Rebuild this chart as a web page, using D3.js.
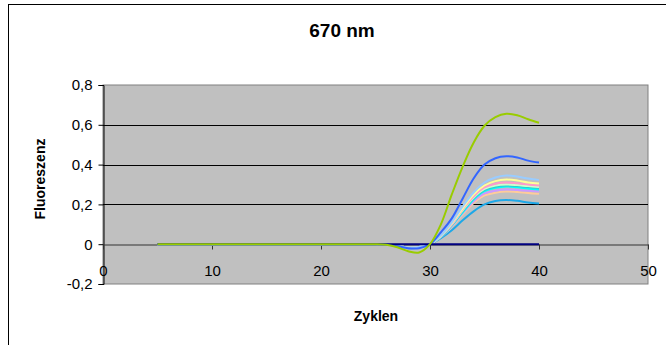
<!DOCTYPE html>
<html>
<head>
<meta charset="utf-8">
<script src="https://cdn.jsdelivr.net/npm/d3@7"></script>
<style>
  body { margin: 0; background: #fff; }
  svg { display: block; font-family: Arial, "Liberation Sans", sans-serif; }
</style>
</head>
<body>
<svg id="chart"></svg>
<script>
// cycles 5..40
cycles = [5,6,7,8,9,10,11,12,13,14,15,16,17,18,19,20,21,22,23,24,25,26,27,28,29,30,31,32,33,34,35,36,37,38,39,40];

navy     = [0,0,0,0,0,0,0,0,0,0,0,0,0,0,0,0,0,0,0,0,0,0,0,0,0,0,0,0,0,0,0,0,0,0,0,0];
cyanLow  = [0,0,0,0,0,0,0,0,0,0,0,0,0,0,0,0,0,0,0,0,0,-0.002,-0.009,-0.02,-0.017,0,0.03,0.07,0.12,0.165,0.2,0.217,0.222,0.218,0.21,0.205];
lightBlue= [0,0,0,0,0,0,0,0,0,0,0,0,0,0,0,0,0,0,0,0,0,-0.002,-0.008,-0.017,-0.014,0,0.045,0.11,0.19,0.26,0.31,0.335,0.345,0.34,0.33,0.322];
yellow   = [0,0,0,0,0,0,0,0,0,0,0,0,0,0,0,0,0,0,0,0,0,-0.002,-0.008,-0.017,-0.014,0,0.043,0.105,0.18,0.25,0.295,0.317,0.325,0.32,0.31,0.305];
pink     = [0,0,0,0,0,0,0,0,0,0,0,0,0,0,0,0,0,0,0,0,0,-0.002,-0.008,-0.017,-0.014,0,0.042,0.1,0.175,0.24,0.285,0.304,0.31,0.306,0.3,0.295];
mint     = [0,0,0,0,0,0,0,0,0,0,0,0,0,0,0,0,0,0,0,0,0,-0.002,-0.008,-0.017,-0.014,0,0.041,0.098,0.17,0.235,0.278,0.295,0.3,0.297,0.292,0.288];
turq     = [0,0,0,0,0,0,0,0,0,0,0,0,0,0,0,0,0,0,0,0,0,-0.002,-0.008,-0.017,-0.014,0,0.04,0.096,0.165,0.23,0.272,0.289,0.295,0.292,0.287,0.283];
aqua     = [0,0,0,0,0,0,0,0,0,0,0,0,0,0,0,0,0,0,0,0,0,-0.002,-0.008,-0.017,-0.014,0,0.039,0.094,0.16,0.225,0.267,0.283,0.29,0.286,0.28,0.275];
lavender = [0,0,0,0,0,0,0,0,0,0,0,0,0,0,0,0,0,0,0,0,0,-0.002,-0.008,-0.017,-0.014,0,0.037,0.09,0.155,0.215,0.255,0.269,0.275,0.272,0.268,0.265];
peach    = [0,0,0,0,0,0,0,0,0,0,0,0,0,0,0,0,0,0,0,0,0,-0.002,-0.008,-0.017,-0.014,0,0.036,0.087,0.15,0.207,0.245,0.259,0.265,0.262,0.257,0.253];
blue     = [0,0,0,0,0,0,0,0,0,0,0,0,0,0,0,0,0,0,0,0,0,-0.002,-0.01,-0.02,-0.02,0,0.06,0.13,0.23,0.33,0.4,0.432,0.442,0.436,0.42,0.41];
green    = [0,0,0,0,0,0,0,0,0,0,0,0,0,0,0,0,0,0,0,0,0,-0.003,-0.015,-0.035,-0.042,0,0.1,0.25,0.39,0.51,0.595,0.638,0.655,0.648,0.628,0.61];

// drawing order: first is at the bottom
series = [
    {values: cyanLow, color: "#1EA8E8"},
    {values: peach, color: "#FFCC99"},
    {values: lavender, color: "#CC99FF"},
    {values: aqua, color: "#00FFFF"},
    {values: turq, color: "#33CCCC"},
    {values: mint, color: "#CCFFCC"},
    {values: pink, color: "#FF99CC"},
    {values: yellow, color: "#FFFF99"},
    {values: lightBlue, color: "#99CCFF"},
    {values: blue, color: "#3366FF"},
    {values: navy, color: "#000080"},
    {values: green, color: "#99CC00"}
];

xTicks = [0, 10, 20, 30, 40, 50];
yTicks = [-0.2, 0, 0.2, 0.4, 0.6, 0.8];

const W = 666, H = 345;
const svg = d3.select("#chart").attr("width", W).attr("height", H);

// plot area box (window.top is reserved, so use own names)
const plotL = 103, plotR = 648, plotT = 85, plotB = 284;

const x = d3.scaleLinear().domain([0, 50]).range([plotL, plotR]);
const y = d3.scaleLinear().domain([-0.2, 0.8]).range([plotB, plotT]);

const fmt = d3.formatLocale({decimal: ",", thousands: ".", grouping: [3], currency: ["", "€"], minus: "-"}).format("~g");

// chart frame
svg.append("rect")
    .attr("x", 8.5).attr("y", 4.5)
    .attr("width", 700).attr("height", 400)
    .attr("fill", "#fff").attr("stroke", "#000").attr("stroke-width", 1);

// plot area
svg.append("rect")
    .attr("x", plotL).attr("y", plotT)
    .attr("width", plotR - plotL).attr("height", plotB - plotT)
    .attr("fill", "#C0C0C0").attr("stroke", "#808080").attr("stroke-width", 1);

// gridlines
svg.append("g").selectAll("line")
    .data([0.2, 0.4, 0.6])
    .enter().append("line")
    .attr("x1", plotL).attr("x2", plotR)
    .attr("y1", d => Math.round(y(d)) + 0.5).attr("y2", d => Math.round(y(d)) + 0.5)
    .attr("stroke", "#000").attr("stroke-width", 1);

// y axis
const yAxis = svg.append("g")
    .attr("transform", "translate(" + (plotL + 0.5) + ",0)")
    .call(d3.axisLeft(y).tickValues(yTicks).tickFormat(fmt).tickSize(5).tickPadding(6));
yAxis.select(".domain").attr("stroke", "#000");
yAxis.selectAll("text").attr("font-size", 15).attr("fill", "#000").attr("font-family", "Arial, 'Liberation Sans', sans-serif");

// x axis along y = 0, labels pushed down
const xAxis = svg.append("g")
    .attr("transform", "translate(0," + (Math.round(y(0)) + 0.5) + ")")
    .call(d3.axisBottom(x).tickValues(xTicks).tickFormat(fmt).tickSizeInner(5).tickSizeOuter(0).tickPadding(16));
xAxis.select(".domain").attr("stroke", "#333");
xAxis.selectAll("line").attr("stroke", "#333");
xAxis.selectAll("text").attr("font-size", 15).attr("fill", "#000").attr("font-family", "Arial, 'Liberation Sans', sans-serif");

// curves
const line = d3.line()
    .x((d, i) => x(cycles[i]))
    .y(d => y(d))
    .curve(d3.curveCatmullRom.alpha(0.5));

svg.append("g").selectAll("path")
    .data(series)
    .enter().append("path")
    .attr("d", d => line(d.values))
    .attr("fill", "none")
    .attr("stroke", d => d.color)
    .attr("stroke-width", 2);

// titles
svg.append("text")
    .attr("x", 342).attr("y", 37)
    .attr("text-anchor", "middle")
    .attr("font-size", 19).attr("font-weight", "bold")
    .text("670 nm");

svg.append("text")
    .attr("transform", "translate(45,179) rotate(-90)")
    .attr("text-anchor", "middle")
    .attr("font-size", 14).attr("font-weight", "bold")
    .text("Fluoreszenz");

svg.append("text")
    .attr("x", 376).attr("y", 321)
    .attr("text-anchor", "middle")
    .attr("font-size", 14).attr("font-weight", "bold")
    .text("Zyklen");
</script>
</body>
</html>
